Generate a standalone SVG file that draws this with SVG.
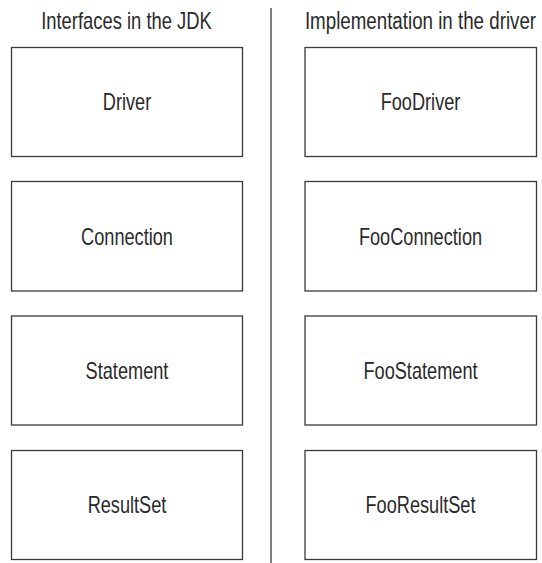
<svg xmlns="http://www.w3.org/2000/svg" width="542" height="563" viewBox="0 0 542 563">
<style>
.box{fill:#fff;stroke:#3a3a3a;stroke-width:1.3}
.t{font-family:"Liberation Sans",Arial,sans-serif;font-size:23px;fill:#2a2a2a;text-anchor:middle}
.div{stroke:#3a3a3a;stroke-width:1.3}
</style>
<rect width="542" height="563" fill="#fff"/>
<g id="headers">
<text class="t" transform="translate(126.5,29) scale(0.8,1)">Interfaces in the JDK</text>
<text class="t" transform="translate(420.5,29) scale(0.815,1)">Implementation in the driver</text>
</g>
<g id="connectors">
<line class="div" x1="271" y1="8" x2="271" y2="563"/>
</g>
<g id="driver"><rect class="box" x="11.5" y="47.5" width="231" height="109"/><text class="t" transform="translate(127,110) scale(0.79,1)">Driver</text></g>
<g id="connection"><rect class="box" x="11.5" y="181.5" width="231" height="109.5"/><text class="t" transform="translate(127,244.5) scale(0.79,1)">Connection</text></g>
<g id="statement"><rect class="box" x="11.5" y="316" width="231" height="109"/><text class="t" transform="translate(127,378.5) scale(0.79,1)">Statement</text></g>
<g id="resultset"><rect class="box" x="11.5" y="450.5" width="231" height="109"/><text class="t" transform="translate(127,513) scale(0.79,1)">ResultSet</text></g>
<g id="foodriver"><rect class="box" x="305" y="47.5" width="231.5" height="109"/><text class="t" transform="translate(420.5,110) scale(0.79,1)">FooDriver</text></g>
<g id="fooconnection"><rect class="box" x="305" y="181.5" width="231.5" height="109.5"/><text class="t" transform="translate(420.5,244.5) scale(0.79,1)">FooConnection</text></g>
<g id="foostatement"><rect class="box" x="305" y="316" width="231.5" height="109"/><text class="t" transform="translate(420.5,378.5) scale(0.79,1)">FooStatement</text></g>
<g id="fooresultset"><rect class="box" x="305" y="450.5" width="231.5" height="109"/><text class="t" transform="translate(420.5,513) scale(0.79,1)">FooResultSet</text></g>
</svg>
